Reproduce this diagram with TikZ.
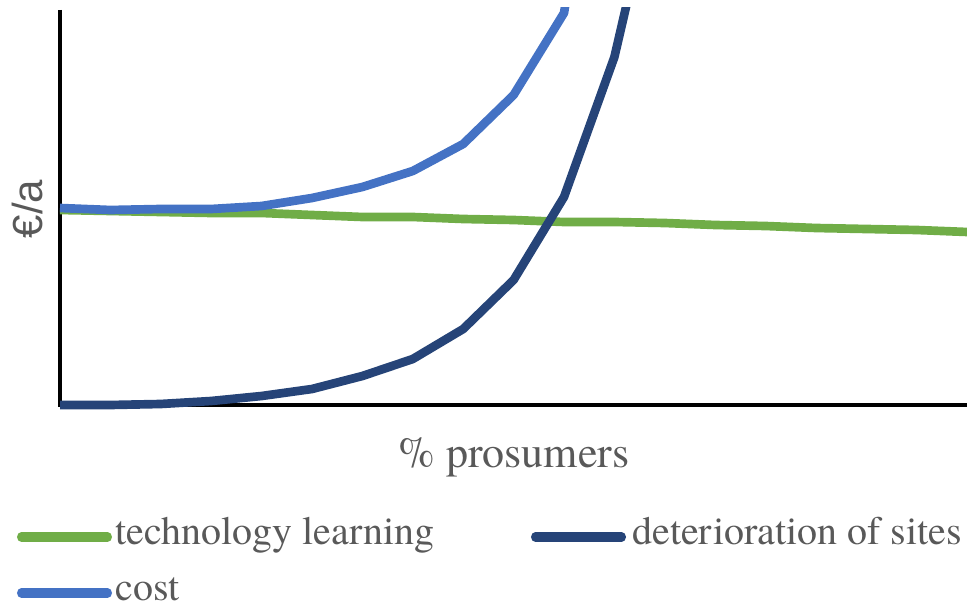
\documentclass[tikz,border=0pt]{standalone}
\usepackage{fontspec}
\newfontfamily\keyfont{texgyretermes-regular.otf}
\newfontfamily\axisfont{Liberation Sans}
\definecolor{techgreen}{HTML}{70AD47}
\definecolor{costblue}{HTML}{4472C4}
\definecolor{sitesblue}{HTML}{264478}
\definecolor{labelgray}{HTML}{595959}
\begin{document}
\begin{tikzpicture}[x=0.75pt,y=-0.75pt,
  series/.style={line width=6.5pt,line join=round},
  key/.style={line width=6.8pt,line cap=round},
  legend/.style={text=labelgray,inner sep=0pt,font=\keyfont\fontsize{30}{30}\selectfont}]
\useasboundingbox (0,0) rectangle (967,609);
\coordinate (top) at (60,10);
\coordinate (o) at (60,405);
\coordinate (right) at (967,405);
\draw [line width=3pt] (top) -- (o) -- (right);
\begin{scope}
\clip (0,8) rectangle (967,609);
\draw [series,techgreen] (60,210) -- (110.4,211) -- (160.8,212) -- (211.2,213)
  -- (261.6,213) -- (312,215) -- (362.4,217) -- (412.8,217) -- (463.2,219)
  -- (513.6,220) -- (564,222) -- (614.4,222) -- (664.8,223) -- (715.2,225)
  -- (765.6,226) -- (816,228) -- (866.4,229) -- (916.8,230) -- (967.2,232);
\draw [series,sitesblue] (60,405) -- (110.4,405) -- (160.8,404) -- (211.2,401)
  -- (261.6,396) -- (312,389) -- (362.4,376) -- (412.8,359) -- (463.2,329)
  -- (513.6,280) -- (564,197) -- (614.4,57) -- (664.8,-160);
\draw [series,costblue] (60,208) -- (110.4,210) -- (160.8,209) -- (211.2,209)
  -- (261.6,206) -- (312,198) -- (362.4,187) -- (412.8,171) -- (463.2,144)
  -- (513.6,95) -- (564,13) -- (614.4,-300);
\end{scope}
\node [legend,font=\axisfont\fontsize{31.5}{31.5}\selectfont,rotate=90] (ylab) at (27,209) {€/a};
\node [legend,font=\keyfont\fontsize{33}{33}\selectfont,anchor=base] (xlab) at (514,467) {\% prosumers};
\node [legend,anchor=base west] (tech) at (115,544) {technology learning};
\node [legend,anchor=base west] (sites) at (632,544) {deterioration of sites};
\node [legend,anchor=base west] (cost) at (115,600) {cost};
\coordinate (tech0) at (21.5,537);
\coordinate (tech1) at (107.5,537);
\coordinate (sites0) at (535.5,537);
\coordinate (sites1) at (621.5,537);
\coordinate (cost0) at (21.5,593);
\coordinate (cost1) at (107.5,593);
\draw [key,techgreen] (tech0) -- (tech1);
\draw [key,sitesblue] (sites0) -- (sites1);
\draw [key,costblue] (cost0) -- (cost1);
\end{tikzpicture}
\end{document}
